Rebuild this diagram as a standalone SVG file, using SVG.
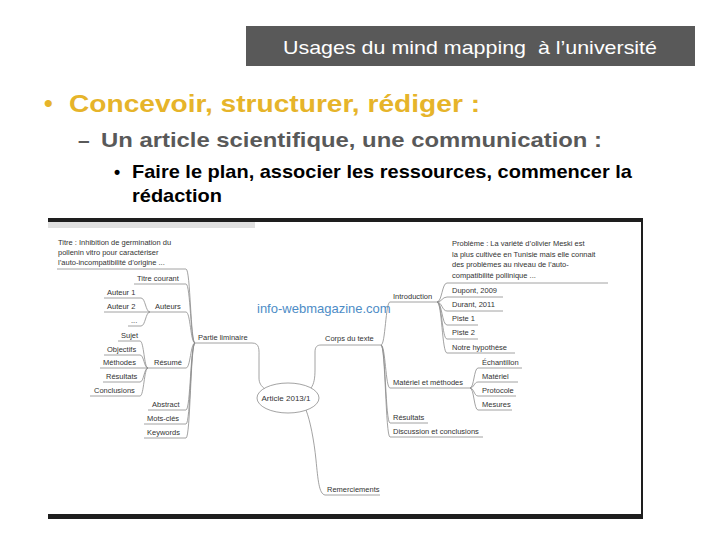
<svg xmlns="http://www.w3.org/2000/svg" width="720" height="540" viewBox="0 0 720 540">
<style>
.title{font-family:"Liberation Sans",Arial,sans-serif;font-size:19px;fill:#fff}
.b1{font-family:"Liberation Sans",Arial,sans-serif;font-size:24.7px;font-weight:bold;fill:#E6B42A}
.b2{font-family:"Liberation Sans",Arial,sans-serif;font-size:21px;font-weight:bold;fill:#595959}
.b3{font-family:"Liberation Sans",Arial,sans-serif;font-size:17.7px;font-weight:bold;fill:#000}
.t{font-family:"Liberation Sans",Arial,sans-serif;font-size:7.5px;fill:#333}
.c{fill:none;stroke:#8c8c8c;stroke-width:0.8}
.wm{font-family:"Liberation Sans",Arial,sans-serif;font-size:13px;fill:#4D8CC6}
</style>
<rect width="720" height="540" fill="#fff"/>
<g id="header">
<rect x="246" y="26" width="449" height="40" fill="#595959"/>
<text class="title" x="283" y="54" textLength="374" lengthAdjust="spacingAndGlyphs" xml:space="preserve">Usages du mind mapping  à l’université</text>
</g>
<g id="bullets">
<text class="b1" x="44" y="112">•</text>
<text class="b1" x="69" y="112" textLength="411" lengthAdjust="spacingAndGlyphs">Concevoir, structurer, rédiger :</text>
<text class="b2" x="78" y="147">–</text>
<text class="b2" x="101" y="147" textLength="501" lengthAdjust="spacingAndGlyphs">Un article scientifique, une communication :</text>
<text class="b3" x="114" y="178">•</text>
<text class="b3" x="132" y="178" textLength="500" lengthAdjust="spacingAndGlyphs">Faire le plan, associer les ressources, commencer la</text>
<text class="b3" x="132" y="202" textLength="90" lengthAdjust="spacingAndGlyphs">rédaction</text>
</g>
<g id="frame">
<rect x="48" y="218" width="595" height="4" fill="#1e1e1e"/>
<rect x="48" y="222" width="207" height="6" fill="#e0e0e0"/>
<rect x="641" y="218" width="2" height="301" fill="#1e1e1e"/>
<rect x="48" y="514" width="595" height="5" fill="#1e1e1e"/>
</g>
<text class="wm" x="257" y="313">info-webmagazine.com</text>
<g id="connectors">
<path class="c" d="M57,269 H186 C190.5,269 190.5,343 195,343"/>
<path class="c" d="M134,284 H186 C190.5,284 190.5,343 195,343"/>
<path class="c" d="M150,312 H186 C190.5,312 190.5,343 195,343"/>
<path class="c" d="M148,368 H186 C190.5,368 190.5,343 195,343"/>
<path class="c" d="M148,410 H186 C190.5,410 190.5,343 195,343"/>
<path class="c" d="M144,424 H186 C190.5,424 190.5,343 195,343"/>
<path class="c" d="M144,438 H186 C190.5,438 190.5,343 195,343"/>
<path class="c" d="M104,298 H141 C145.5,298 145.5,312 150,312"/>
<path class="c" d="M104,312 H150"/>
<path class="c" d="M128,326 H141 C145.5,326 145.5,312 150,312"/>
<path class="c" d="M118,341 H140 C144,341 144,368 148,368"/>
<path class="c" d="M104,355 H140 C144,355 144,368 148,368"/>
<path class="c" d="M100,368 H148"/>
<path class="c" d="M103,382 H140 C144,382 144,368 148,368"/>
<path class="c" d="M90,396 H140 C144,396 144,368 148,368"/>
<path class="c" d="M195,343 H252 C260,343 259,350 259,358 V378 C259,383 261,386 265,389"/>
<path class="c" d="M311,388 C314,384 315,378 315,370 V352 C315,347 317,345 321,345 H381"/>
<path class="c" d="M306,410 C310,420 314,440 316,460 C318,480 319,494 325,495 H380"/>
<path class="c" d="M381,345 C385.5,345 385.5,302 390,302 H437"/>
<path class="c" d="M381,345 C385.5,345 385.5,388 390,388 H470"/>
<path class="c" d="M381,345 C385.5,345 385.5,423 390,423 H428"/>
<path class="c" d="M381,345 C385.5,345 385.5,437 390,437 H483"/>
<path class="c" d="M437,302 C442,302 442,283 447,283 H608"/>
<path class="c" d="M437,302 C442,302 442,297 447,297 H503"/>
<path class="c" d="M437,302 C442,302 442,311 447,311 H503"/>
<path class="c" d="M437,302 C442,302 442,325 447,325 H478"/>
<path class="c" d="M437,302 C442,302 442,339 447,339 H478"/>
<path class="c" d="M437,302 C442,302 442,353 447,353 H515"/>
<path class="c" d="M470,388 C474,388 474,368 478,368 H522"/>
<path class="c" d="M470,388 C474,388 474,382 478,382 H518"/>
<path class="c" d="M470,388 C474,388 474,396 478,396 H516"/>
<path class="c" d="M470,388 C474,388 474,410 478,410 H512"/>
</g>
<g id="article"><ellipse cx="288" cy="398" rx="31" ry="15" fill="#fff" stroke="#8c8c8c" stroke-width="0.8"/><text class="t" x="286" y="401" text-anchor="middle" style="font-size:8px">Article 2013/1</text></g>
<g id="titre"><text class="t" x="58" y="245">Titre : Inhibition de germination du</text><text class="t" x="58" y="255">pollenin vitro pour caractériser</text><text class="t" x="58" y="265">l’auto-incompatibilité d’origine ...</text></g>
<g id="titre-courant"><text class="t" x="137" y="281">Titre courant</text></g>
<g id="auteur1"><text class="t" x="107" y="295">Auteur 1</text></g>
<g id="auteur2"><text class="t" x="107" y="309">Auteur 2</text></g>
<g id="auteur-etc"><text class="t" x="131" y="323">...</text></g>
<g id="auteurs"><text class="t" x="155" y="309">Auteurs</text></g>
<g id="sujet"><text class="t" x="121" y="338">Sujet</text></g>
<g id="objectifs"><text class="t" x="107" y="352">Objectifs</text></g>
<g id="methodes"><text class="t" x="103" y="365">Méthodes</text></g>
<g id="resultats-l"><text class="t" x="106" y="379">Résultats</text></g>
<g id="conclusions"><text class="t" x="94" y="393">Conclusions</text></g>
<g id="resume"><text class="t" x="154" y="365">Résumé</text></g>
<g id="abstract"><text class="t" x="152" y="407">Abstract</text></g>
<g id="mots-cles"><text class="t" x="147" y="421">Mots-clés</text></g>
<g id="keywords"><text class="t" x="147" y="435">Keywords</text></g>
<g id="partie-liminaire"><text class="t" x="198" y="340">Partie liminaire</text></g>
<g id="corps"><text class="t" x="325" y="341">Corps du texte</text></g>
<g id="introduction"><text class="t" x="393" y="299">Introduction</text></g>
<g id="probleme"><text class="t" x="452" y="246">Problème : La variété d’olivier Meski est</text><text class="t" x="452" y="257">la plus cultivée en Tunisie mais elle connait</text><text class="t" x="452" y="267">des problèmes au niveau de l’auto-</text><text class="t" x="452" y="278">compatibilité pollinique ...</text></g>
<g id="dupont"><text class="t" x="452" y="293">Dupont, 2009</text></g>
<g id="durant"><text class="t" x="452" y="307">Durant, 2011</text></g>
<g id="piste1"><text class="t" x="452" y="321">Piste 1</text></g>
<g id="piste2"><text class="t" x="452" y="335">Piste 2</text></g>
<g id="hypothese"><text class="t" x="452" y="350">Notre hypothèse</text></g>
<g id="materiel-methodes"><text class="t" x="393" y="385">Matériel et méthodes</text></g>
<g id="echantillon"><text class="t" x="482" y="365">Échantillon</text></g>
<g id="materiel"><text class="t" x="482" y="379">Matériel</text></g>
<g id="protocole"><text class="t" x="482" y="393">Protocole</text></g>
<g id="mesures"><text class="t" x="482" y="407">Mesures</text></g>
<g id="resultats"><text class="t" x="393" y="420">Résultats</text></g>
<g id="discussion"><text class="t" x="393" y="434">Discussion et conclusions</text></g>
<g id="remerciements"><text class="t" x="327" y="492">Remerciements</text></g>
</svg>
